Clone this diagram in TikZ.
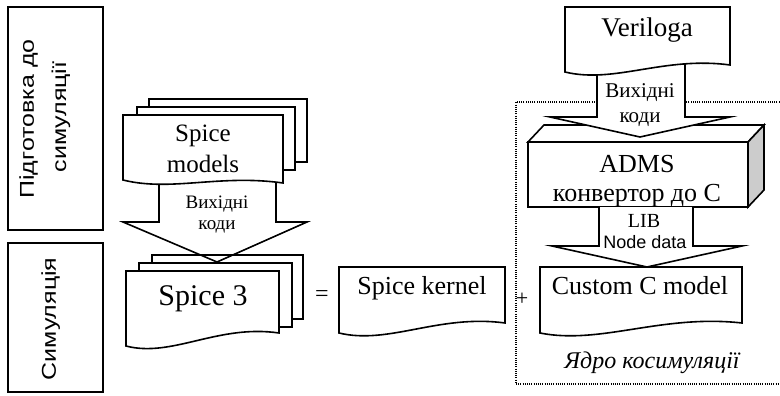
\documentclass[tikz,border=0pt]{standalone}
\usepackage{fontspec}
\setmainfont{Liberation Serif}
\newfontfamily\sansf{Liberation Sans}
\newcommand\fs[1]{\fontsize{#1}{#1}\selectfont}
% document shape: x0, ytop, x1, yleftbottom, yrightbottom
\newcommand\docshape[5]{%
  \draw[docst] (#1,#2) -- (#3,#2) -- (#3,#5)
    .. controls ({#1+0.6*(#3-#1)},{#5-9}) and ({#1+0.3*(#3-#1)},{#4+12}) .. (#1,#4) -- cycle;}
\begin{document}
\begin{tikzpicture}[x=1pt,y=-1pt,line width=1.6pt,line join=miter,
  docst/.style={draw=black,fill=white},
  lbl/.style={inner sep=0pt,anchor=base},
  sidelbl/.style={inner sep=0pt,anchor=base,rotate=90,font=\sansf\fs{20}}]
\useasboundingbox (0,0) rectangle (780,396);
\fill[white] (0,0) rectangle (780,396);

% left stage boxes
\draw[line width=1.4pt] (8,7) rectangle (103,230);
\draw[line width=1.4pt] (8,243) rectangle (103,392);
\node[sidelbl] (prep1) at (34,119) {\scalebox{1.25}[1]{Підготовка до}};
\node[sidelbl] (prep2) at (66,117) {\scalebox{1.25}[1]{симуляції}};
\node[sidelbl] (sim) at (56,319) {\scalebox{1.25}[1]{Симуляція}};

% dotted co-simulation frame
\draw[line width=1.3pt,dash pattern=on 1pt off 1.2pt] (784,102) -- (516,102) -- (516,384) -- (784,384);

% Spice 3 stack
\draw[docst] (152,255) rectangle (303,319);
\draw[docst] (139,263) rectangle (292,327);
\docshape{126}{271}{279}{346}{333}

% arrow Spice models -> Spice 3
\draw (159,182) -- (159,222) -- (123,222) -- (217,262) -- (307,222) -- (276,222) -- (276,182);

% Spice models stack
\draw[docst] (149,99) rectangle (307,162);
\draw[docst] (137,107) rectangle (295,170);
\docshape{123}{115}{283}{180}{183}

% Spice kernel
\docshape{339}{267}{505}{333}{323}

% ADMS cuboid
\draw[docst] (528,142) rectangle (748,207);
\draw[docst] (528,142) -- (544,125) -- (764,125) -- (748,142) -- cycle;
\draw[draw=black,fill=black!20] (748,142) -- (764,125) -- (764,190) -- (748,207) -- cycle;

% arrow Veriloga -> ADMS
\draw[fill=white] (597,60) -- (597,117) -- (550,117) -- (640,137) -- (730,117) -- (685,117) -- (685,60) -- cycle;
% Veriloga
\docshape{565}{7}{730}{72}{65}

% arrow ADMS -> Custom C model
\draw[fill=white] (599,207) -- (599,246) -- (552,246) -- (647,267) -- (742,246) -- (693,246) -- (693,207);
% Custom C model
\docshape{540}{267}{742}{333}{323}

% texts
\node[lbl,font=\fs{25}] (sm1) at (203,142) {Spice};
\node[lbl,font=\fs{25}] (sm2) at (203,172) {models};
\node[lbl,font=\fs{19}] (vk1) at (217,208) {Вихідні};
\node[lbl,font=\fs{19}] (vk2) at (217,229) {коди};
\node[lbl,font=\fs{30}] (s3) at (203,305) {Spice 3};
\node[lbl,font=\fs{24}] (eq) at (322,301) {=};
\node[lbl,font=\fs{26}] (sk) at (422,294) {Spice kernel};
\node[lbl,font=\fs{22}] (plus) at (522,305) {+};
\node[lbl,font=\fs{27}] (vl) at (647,37) {Veriloga};
\node[lbl,font=\fs{21}] (vk3) at (640,98) {Вихідні};
\node[lbl,font=\fs{21}] (vk4) at (640,122) {коди};
\node[lbl,font=\fs{26}] (adms1) at (637,172) {ADMS};
\node[lbl,font=\fs{26}] (adms2) at (637,201) {конвертор до С};
\node[lbl,font=\fs{20}] (lib) at (644,227) {LIB};
\node[lbl,font=\sansf\fs{18}] (nd) at (645,248) {Node data};
\node[lbl,font=\fs{26}] (ccm) at (640,294) {Custom C model};
\node[lbl,font=\itshape\fs{24}] (core) at (652,368) {Ядро косимуляції};
\end{tikzpicture}
\end{document}
